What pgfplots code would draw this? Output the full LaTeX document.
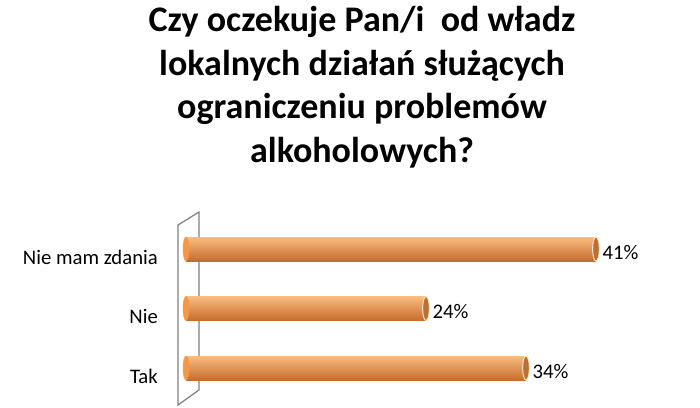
\documentclass[border=0pt]{standalone}
\usepackage{fontspec}
\setmainfont{Carlito}
\usepackage{pgfplots}
\pgfplotsset{compat=1.18}
\usepackage{pgfplotstable}

\definecolor{barTop}{RGB}{250,188,128}
\definecolor{barMid}{RGB}{245,152,70}
\definecolor{barBot}{RGB}{198,108,44}
\definecolor{capFill}{RGB}{184,112,52}
\definecolor{capRim}{RGB}{252,228,200}
\definecolor{wallgray}{RGB}{128,128,128}

% answers, bottom to top
\pgfplotstableread{
pos base val lab
0 0 34 Tak
1 0 24 Nie
2 0 41 {Nie mam zdania}
}\answers

\pgfplotsset{
  cyl/.style={xbar, bar width=24pt, bar shift=0pt, draw=none,
    top color=barTop, middle color=barMid, bottom color=barBot,
    point meta=x,
    nodes near coords={\pgfmathprintnumber{\pgfplotspointmeta}\%},
    nodes near coords style={anchor=west, inner sep=0pt, xshift=6.5pt, yshift=-3.5pt,
      text=black, font=\fontsize{20.7}{24}\selectfont}},
}

\begin{document}
\begin{tikzpicture}
\useasboundingbox (0,0) rectangle (700pt,407pt);
\begin{axis}[
  at={(186pt,9.25pt)}, anchor=south west,
  scale only axis, width=500pt, height=178.5pt,
  xmin=0, xmax=50, ymin=-0.5, ymax=2.5,
  clip=false,
  axis line style={draw=none},
  xtick=\empty,
  ytick={0,1,2},
  yticklabels from table={\answers}{lab},
  ytick pos=left,
  major tick length=0pt,
  yticklabel style={font=\fontsize{20.7}{24}\selectfont, inner sep=0pt, xshift=-28pt, yshift=-8pt},
  /pgf/number format/assume math mode=true,
]
% 3D wall
\draw[wallgray, line width=1.2pt, fill=white]
  (axis cs:-0.8,2.403) -- (axis cs:1.3,2.622) -- (axis cs:1.3,-0.37) -- (axis cs:-0.8,-0.622) -- cycle;
% rounded start of each cylinder
\addplot[only marks, mark=*, mark size=12pt,
  mark options={xscale=0.25, fill=barMid, draw=barMid}]
  table[x=base, y=pos]{\answers};
% bars, one plot each so that every cylinder gets its own shading
\addplot[cyl] coordinates {(34,0)};
\addplot[cyl] coordinates {(24,1)};
\addplot[cyl] coordinates {(41,2)};
% end caps
\addplot[only marks, mark=*, mark size=12pt,
  mark options={xscale=0.28, fill=capFill, draw=capRim, line width=1pt}]
  table[x=val, y=pos]{\answers};
\end{axis}
\begin{scope}[every node/.style={anchor=base, font=\bfseries\fontsize{36}{36}\selectfont}]
\node at (362pt,375pt) {Czy oczekuje Pan/i\ \ od władz};
\node at (362pt,331.5pt) {lokalnych działań służących};
\node at (362pt,288pt) {ograniczeniu problemów};
\node at (362pt,244.5pt) {alkoholowych?};
\end{scope}
\end{tikzpicture}
\end{document}
